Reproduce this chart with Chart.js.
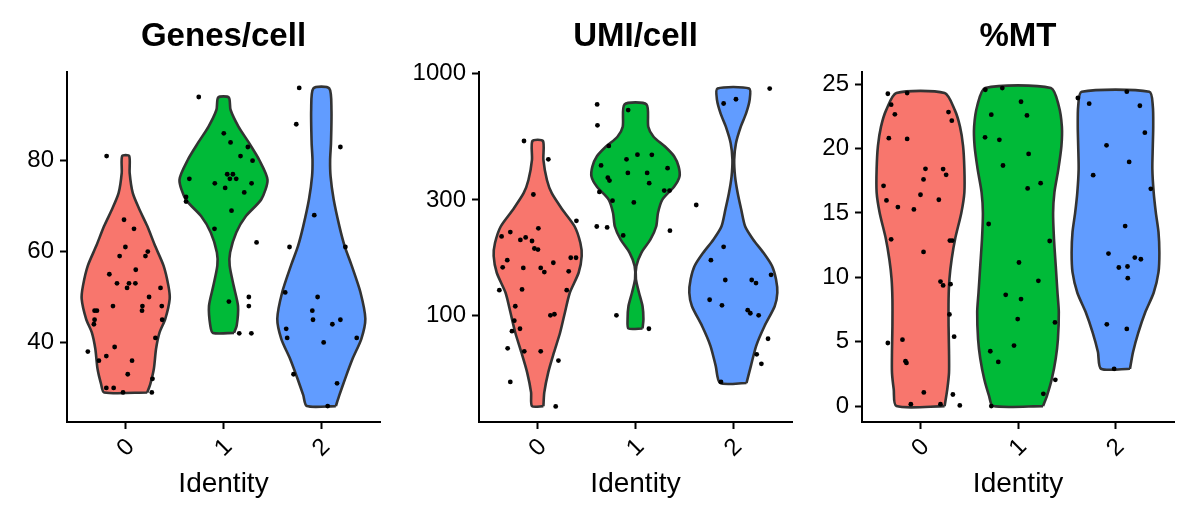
<!DOCTYPE html>
<html><head><meta charset="utf-8">
<script src="https://cdn.jsdelivr.net/npm/chart.js@4.4.1/dist/chart.umd.min.js"></script>
<style>
html,body{margin:0;padding:0;background:#fff;width:1200px;height:525px;overflow:hidden}
canvas{position:absolute;top:0}
</style></head><body>
<canvas id="c1" style="left:0px" width="400" height="525"></canvas>
<canvas id="c2" style="left:400px" width="400" height="525"></canvas>
<canvas id="c3" style="left:800px" width="400" height="525"></canvas>
<script>
// ---------- data ----------
const categories = ['0', '1', '2'];
const colors = ['#F8766D', '#00BA38', '#619CFF'];
const panelTitles = ['Genes/cell', 'UMI/cell', '%MT'];
const xTitle = 'Identity';

const genesTicks = [40, 60, 80];
const umiTicks = [100, 300, 1000];
const mtTicks = [0, 5, 10, 15, 20, 25];

// violin density profiles (value levels, relative half-width)
const genesV0Levels = [29.0, 30.9, 34.2, 38.6, 42.2, 45.2, 49.6, 52.5, 56.9, 61.2, 65.6, 69.3, 72.9, 77.3, 81.0];
const genesV0Widths = [0.49, 0.56, 0.64, 0.69, 0.77, 0.90, 1.0, 0.97, 0.86, 0.67, 0.49, 0.31, 0.16, 0.09, 0.08];
const genesV1Levels = [42.1, 43.7, 48.0, 52.5, 56.9, 59.8, 64.2, 67.8, 71.5, 75.8, 80.2, 83.9, 87.5, 91.2, 93.9];
const genesV1Widths = [0.24, 0.30, 0.33, 0.23, 0.14, 0.15, 0.29, 0.51, 0.86, 1.0, 0.81, 0.58, 0.34, 0.16, 0.12];
const genesV2Levels = [26.0, 28.4, 32.0, 36.4, 40.8, 45.2, 51.0, 56.9, 61.2, 65.6, 71.5, 76.6, 80.2, 83.9, 91.2, 95.9];
const genesV2Widths = [0.33, 0.41, 0.54, 0.71, 0.91, 1.0, 0.89, 0.69, 0.53, 0.41, 0.28, 0.21, 0.20, 0.22, 0.23, 0.18];

const umiV0Levels = [42.1, 48.0, 58.1, 70.2, 84.9, 103, 124, 150, 176, 199, 233, 274, 320, 363, 440, 526];
const umiV0Widths = [0.13, 0.15, 0.24, 0.37, 0.51, 0.62, 0.73, 0.93, 1.0, 0.97, 0.84, 0.56, 0.32, 0.21, 0.13, 0.12];
const umiV1Levels = [88.2, 96.3, 109, 124, 141, 160, 181, 206, 233, 265, 301, 341, 375, 412, 454, 499, 548, 603, 745];
const umiV1Widths = [0.16, 0.18, 0.16, 0.08, 0.01, 0.02, 0.13, 0.34, 0.47, 0.51, 0.61, 0.88, 1.0, 0.98, 0.88, 0.67, 0.41, 0.29, 0.25];
const umiV2Levels = [52.5, 61.8, 74.8, 90.3, 109, 124, 141, 160, 181, 206, 233, 274, 320, 375, 440, 515, 603, 684, 776, 867];
const umiV2Widths = [0.30, 0.40, 0.52, 0.71, 0.94, 1.0, 0.97, 0.88, 0.69, 0.45, 0.27, 0.18, 0.10, 0.04, 0.02, 0.06, 0.17, 0.29, 0.37, 0.36];

const mtV0Levels = [0.0, 1.3, 2.6, 4.2, 6.2, 8.3, 9.9, 11.4, 13.0, 15.0, 16.6, 18.4, 20.2, 21.7, 23.0, 24.3];
const mtV0Widths = [0.55, 0.61, 0.65, 0.65, 0.64, 0.64, 0.66, 0.71, 0.79, 0.93, 1.0, 1.0, 0.97, 0.90, 0.78, 0.55];
const mtV1Levels = [0.0, 0.8, 2.1, 3.7, 5.2, 7.3, 8.8, 10.9, 13.0, 15.0, 16.6, 18.4, 20.2, 21.7, 23.3, 24.7];
const mtV1Widths = [0.57, 0.66, 0.77, 0.86, 0.91, 0.93, 0.90, 0.86, 0.82, 0.80, 0.83, 0.92, 0.99, 1.0, 0.93, 0.75];
const mtV2Levels = [2.9, 4.2, 5.7, 7.3, 8.8, 10.4, 11.9, 13.5, 15.0, 16.6, 18.4, 20.2, 21.7, 23.3, 24.4];
const mtV2Widths = [0.33, 0.40, 0.52, 0.68, 0.87, 0.98, 1.0, 0.98, 0.92, 0.87, 0.84, 0.85, 0.86, 0.85, 0.77];

// individual cells (value, jitter offset from category)
const genes0 = [81,38,36,37,30,30,29,33,36,39,48,47,47,45,44,55,53,59,67,61,52,53,53,65,56,59,60,48,47,50,52,48,45,41,32,29];
const genes0Jit = [-0.195,-0.387,-0.274,-0.198,-0.198,-0.123,-0.027,0.021,0.065,-0.113,-0.130,-0.318,-0.294,-0.318,-0.325,-0.167,-0.089,-0.062,-0.017,-0.003,0.014,0.034,0.099,0.085,0.103,0.202,0.226,0.171,0.167,0.239,0.356,0.369,0.373,0.304,0.274,0.267];
const genes1 = [94,72,71,76,65,75,86,84,74,77,76,77,76,69,81,83,80,75,73,62,49,50,48,42,42];
const genes1Jit = [-0.253,-0.383,-0.383,-0.349,-0.092,-0.089,0.003,0.072,0.017,0.038,0.065,0.096,0.130,0.082,0.174,0.249,0.297,0.287,0.212,0.338,0.055,0.259,0.259,0.161,0.285];
const genes2 = [96,88,68,61,51,43,41,50,47,45,40,44,45,41,61,83,33,31,26];
const genes2Jit = [-0.226,-0.256,-0.072,-0.325,-0.369,-0.359,-0.349,-0.038,-0.092,-0.085,0.024,0.113,0.195,0.362,0.246,0.195,-0.284,0.161,0.065];

const umi0 = [526,442,316,246,229,212,221,205,210,203,189,187,169,158,157,165,173,173,157,151,152,127,128,127,109,100,101,95,88,86,73,71,71,65,53,42];
const umi0Jit = [-0.140,0.109,-0.044,0.396,0.007,-0.369,-0.280,-0.177,-0.123,-0.058,-0.034,0.003,-0.311,-0.358,-0.147,0.160,0.338,0.392,0.031,0.068,0.317,-0.392,-0.160,0.297,-0.229,0.130,0.171,-0.239,-0.181,-0.263,-0.307,-0.137,0.031,0.212,-0.280,0.184];
const umi1 = [745,611,706,502,417,442,462,461,371,361,388,388,352,406,324,298,293,328,328,233,231,214,224,100,88];
const umi1Jit = [-0.392,-0.389,-0.075,-0.273,-0.352,-0.092,0.020,0.167,-0.283,-0.266,-0.078,0.119,0.140,0.328,-0.369,-0.235,-0.017,0.294,0.348,-0.396,-0.290,-0.126,0.352,-0.195,0.137];
const umi2 = [867,752,783,286,192,169,140,140,136,147,116,110,105,102,100,80,69,63,53];
const umi2Jit = [0.372,-0.099,0.027,-0.379,-0.099,-0.229,-0.082,0.188,0.232,0.386,-0.242,-0.116,0.147,0.174,0.259,0.355,0.239,0.287,-0.126];

const mt0 = [24.25,23.4,22.65,20.8,24.3,20.74,17.1,15.97,15.45,12.95,4.9,5.16,3.48,3.35,0.15,1.06,15.27,16.41,17.6,18.42,11.97,16.02,18.4,17.96,22.83,22.16,12.85,12.85,9.67,9.37,9.47,7.12,5.39,0.9,0.15,0.05];
const mt0Jit = [-0.335,-0.301,-0.263,-0.325,-0.137,-0.137,-0.379,-0.349,-0.232,-0.301,-0.335,-0.185,-0.154,-0.144,-0.099,0.034,-0.068,0,0.031,0.051,0.031,0.188,0.232,0.263,0.287,0.321,0.301,0.325,0.205,0.232,0.308,0.297,0.345,0.332,0.205,0.403];
const mt1 = [24.56,24.69,22.63,20.87,20.67,18.68,23.63,22.57,19.58,16.9,17.31,14.14,11.15,12.82,9.73,8.64,8.31,6.76,6.5,4.7,4.26,3.43,0.95,2.04,0];
const mt1Jit = [-0.335,-0.161,-0.274,-0.338,-0.191,-0.154,0.031,0.092,0.109,0.099,0.232,-0.301,0.010,0.325,0.209,-0.126,0.031,-0.003,0.379,-0.041,-0.284,-0.202,0.260,0.383,-0.274];
const mt2 = [23.92,23.48,17.93,20.25,18.96,23.32,21.23,16.87,13.98,11.84,10.76,10.84,9.93,11.53,11.4,6.35,5.99,2.89,24.41];
const mt2Jit = [-0.386,-0.270,-0.229,-0.092,0.140,0.250,0.301,0.362,0.099,-0.072,0.034,0.123,0.126,0.198,0.260,-0.089,0.116,-0.014,0.116];

// ---------- drawing ----------
Chart.defaults.font.family = "'Liberation Sans', Arial, Helvetica, sans-serif";
Chart.defaults.color = '#000';
const HALF = 0.45;

function makePanel(id, title, yType, yMin, yMax, yTicks, yWidth, padRight, groups) {
  const datasets = [];
  groups.forEach((g, i) => {
    const pts = [];
    for (let k = 0; k < g.levels.length; k++) pts.push({x: i + HALF * g.widths[k], y: g.levels[k]});
    for (let k = g.levels.length - 1; k >= 0; k--) pts.push({x: i - HALF * g.widths[k], y: g.levels[k]});
    pts.push({x: pts[0].x, y: pts[0].y});
    datasets.push({type: 'scatter', data: pts, showLine: true, fill: 'shape',
      backgroundColor: colors[i], borderColor: '#333333', borderWidth: 2.6, borderJoinStyle: 'round',
      pointRadius: 0, pointHoverRadius: 0, tension: 0.25, order: 2, clip: false});
    datasets.push({type: 'scatter', data: g.values.map((v, k) => ({x: i + g.jitter[k], y: v})),
      pointRadius: 2.4, backgroundColor: '#000', borderWidth: 0, order: 1});
  });
  const gridOpts = {drawOnChartArea: false, drawTicks: true, tickLength: 7, tickColor: '#000', tickWidth: 2};
  const borderOpts = {display: true, color: '#000', width: 2};
  new Chart(document.getElementById(id), {
    type: 'scatter',
    data: {datasets},
    options: {
      responsive: false, animation: false, devicePixelRatio: 1,
      layout: {padding: {left: 0, right: padRight, top: 0, bottom: 0}},
      plugins: {
        legend: {display: false}, tooltip: {enabled: false},
        title: {display: true, text: title, fullSize: false, color: '#000',
          font: {size: 33, weight: 'bold', lineHeight: 1.2}, padding: {top: 17, bottom: 15.4}}
      },
      scales: {
        x: {type: 'linear', min: -0.6, max: 2.6,
          afterBuildTicks: s => { s.ticks = categories.map((c, i) => ({value: i})); },
          afterFit: s => { s.height = 103; },
          ticks: {callback: v => categories[v], minRotation: 45, maxRotation: 45, autoSkip: false,
            font: {size: 24}, color: '#000', padding: 4, labelOffset: 5},
          grid: gridOpts, border: borderOpts,
          title: {display: true, text: xTitle, color: '#000', font: {size: 28, lineHeight: 1.2},
            padding: {top: 0, bottom: 24}}
        },
        y: {type: yType, min: yMin, max: yMax,
          afterBuildTicks: s => { s.ticks = yTicks.map(v => ({value: v})); },
          afterFit: s => { s.width = yWidth; },
          ticks: {callback: v => String(v), autoSkip: false, font: {size: 24}, color: '#000', padding: 6},
          grid: gridOpts, border: borderOpts
        }
      }
    }
  });
}

makePanel('c1', panelTitles[0], 'linear', 22.5, 99.5, genesTicks, 67, 20, [
  {levels: genesV0Levels, widths: genesV0Widths, values: genes0, jitter: genes0Jit},
  {levels: genesV1Levels, widths: genesV1Widths, values: genes1, jitter: genes1Jit},
  {levels: genesV2Levels, widths: genesV2Widths, values: genes2, jitter: genes2Jit}
]);
makePanel('c2', panelTitles[1], 'logarithmic', 36.2, 1015, umiTicks, 79, 8, [
  {levels: umiV0Levels, widths: umiV0Widths, values: umi0, jitter: umi0Jit},
  {levels: umiV1Levels, widths: umiV1Widths, values: umi1, jitter: umi1Jit},
  {levels: umiV2Levels, widths: umiV2Widths, values: umi2, jitter: umi2Jit}
]);
makePanel('c3', panelTitles[2], 'linear', -1.235, 25.94, mtTicks, 62, 26, [
  {levels: mtV0Levels, widths: mtV0Widths, values: mt0, jitter: mt0Jit},
  {levels: mtV1Levels, widths: mtV1Widths, values: mt1, jitter: mt1Jit},
  {levels: mtV2Levels, widths: mtV2Widths, values: mt2, jitter: mt2Jit}
]);
</script>
</body></html>
